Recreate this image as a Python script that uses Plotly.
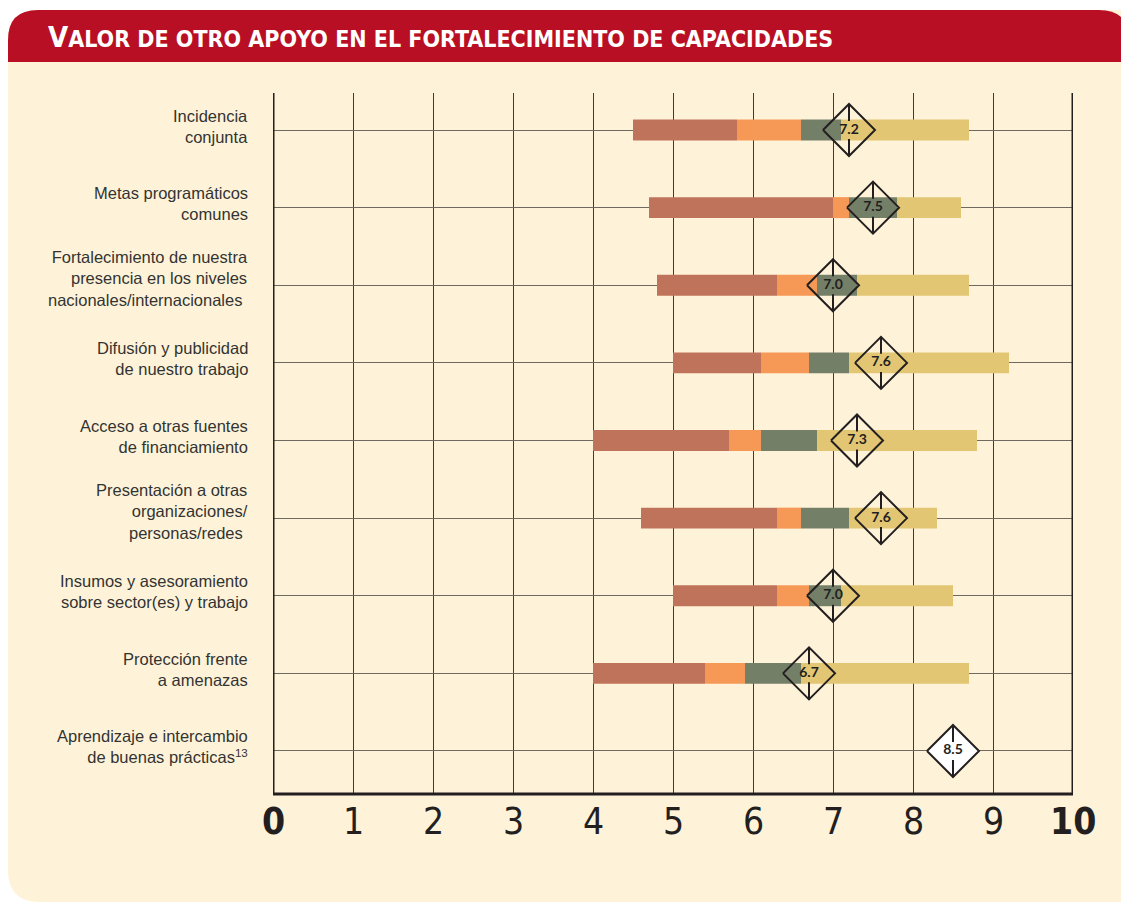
import plotly.graph_objects as go

# ---------------- data ----------------
categories = [
    "Incidencia<br>conjunta",
    "Metas programáticos<br>comunes",
    "Fortalecimiento de nuestra<br>presencia en los niveles<br>nacionales/internacionales ",
    "Difusión y publicidad<br>de nuestro trabajo",
    "Acceso a otras fuentes<br>de financiamiento",
    "Presentación a otras<br>organizaciones/<br>personas/redes ",
    "Insumos y asesoramiento<br>sobre sector(es) y trabajo",
    "Protección frente<br>a amenazas",
    "Aprendizaje e intercambio<br>de buenas prácticas<sup>13</sup>",
]
seg_start      = [4.5, 4.7, 4.8, 5.0, 4.0, 4.6, 5.0, 4.0, None]
seg_red_end    = [5.8, 7.0, 6.3, 6.1, 5.7, 6.3, 6.3, 5.4, None]
seg_orange_end = [6.6, 7.2, 6.8, 6.7, 6.1, 6.6, 6.7, 5.9, None]
seg_green_end  = [7.1, 7.8, 7.3, 7.2, 6.8, 7.2, 7.1, 6.6, None]
seg_end        = [8.7, 8.6, 8.7, 9.2, 8.8, 8.3, 8.5, 8.7, None]
promedio       = [7.2, 7.5, 7.0, 7.6, 7.3, 7.6, 7.0, 6.7, 8.5]
tick_values = list(range(0, 11))
tick_labels = ["0", "1", "2", "3", "4", "5", "6", "7", "8", "9", "10"]
title_text = "Valor de otro apoyo en el fortalecimiento de capacidades"

# ---------------- styling ----------------
OFF = 8  # page body margin
W, H = 1129 - OFF, 904 - OFF
L, R, T, B = 273, 1073, 93, 794   # screen pixels of plot area
ROW_PX = 77.6
y_top = -(130 - T) / ROW_PX
y_bot = 8 + (B - 751) / ROW_PX

C_RED = "#C0735B"
C_ORA = "#F69856"
C_GRN = "#747F68"
C_YEL = "#E2C673"
CREAM = "#FEF3D8"
BAND = "#B80F24"
INK = "#231F20"
NARROW = "Liberation Sans Narrow, Arial Narrow, DejaVu Sans Condensed, sans-serif"


def PX(p):
    return (p - L) / (R - L)


def PY(p):
    return (B - p) / (B - T)


rows = list(range(len(categories)))
dx = 26 / 80.0
dy = 26 / ROW_PX
txt_half = 9 / ROW_PX

fig = go.Figure()

# white fill for diamonds without bar
fx, fy = [], []
for i, v in enumerate(promedio):
    if seg_start[i] is None:
        fx += [v - dx, v, v + dx, v, v - dx, None]
        fy += [i, i - dy, i, i + dy, i, None]
fig.add_trace(go.Scatter(x=fx, y=fy, mode="lines", fill="toself", fillcolor="white",
                         line=dict(width=0), hoverinfo="skip", showlegend=False))

# vertical line inside diamonds
vx, vy = [], []
for i, v in enumerate(promedio):
    vx += [v, v, None, v, v, None]
    vy += [i - dy, i - txt_half, None, i + txt_half, i + dy, None]
fig.add_trace(go.Scatter(x=vx, y=vy, mode="lines", line=dict(color=INK, width=2),
                         hoverinfo="skip", showlegend=False))

# stacked segments
bounds = [seg_start, seg_red_end, seg_orange_end, seg_green_end, seg_end]
colors = [C_RED, C_ORA, C_GRN, C_YEL]
for k, col in enumerate(colors):
    base = list(bounds[k])
    length = [(b - a) if (a is not None and b is not None) else None
              for a, b in zip(bounds[k], bounds[k + 1])]
    fig.add_trace(go.Bar(orientation="h", y=rows, x=length, base=base, width=0.27,
                         marker=dict(color=col, line=dict(width=0)),
                         hoverinfo="skip", showlegend=False))

# diamond outlines
ox, oy = [], []
for i, v in enumerate(promedio):
    ox += [v - dx, v, v + dx, v, v - dx, None]
    oy += [i, i - dy, i, i + dy, i, None]
fig.add_trace(go.Scatter(x=ox, y=oy, mode="lines", line=dict(color=INK, width=2),
                         hoverinfo="skip", showlegend=False))

# values
fig.add_trace(go.Scatter(x=promedio, y=rows, mode="text",
                         text=["<b>%.1f</b>" % v for v in promedio],
                         textfont=dict(family="Lato, Liberation Sans, sans-serif", size=14, color=INK),
                         textposition="middle center", hoverinfo="skip", showlegend=False))

shapes = []
# cream panel
shapes.append(dict(type="path", xref="paper", yref="paper", layer="below",
                   path=("M %f,%f Q %f,%f %f,%f L %f,%f L %f,%f L %f,%f Q %f,%f %f,%f Z" % (
                       PX(8), PY(40), PX(8), PY(10), PX(38), PY(10),
                       PX(1140), PY(10), PX(1140), PY(902), PX(40), PY(902),
                       PX(8), PY(902), PX(8), PY(870))),
                   fillcolor=CREAM, line=dict(width=0)))
# red title band
shapes.append(dict(type="path", xref="paper", yref="paper", layer="below",
                   path=("M %f,%f L %f,%f Q %f,%f %f,%f L %f,%f Q %f,%f %f,%f L %f,%f Z" % (
                       PX(8), PY(62), PX(8), PY(40), PX(8), PY(10), PX(38), PY(10),
                       PX(1099), PY(10), PX(1129), PY(10), PX(1129), PY(40),
                       PX(1129), PY(62))),
                   fillcolor=BAND, line=dict(width=0)))
# frame lines
shapes.append(dict(type="line", xref="x", yref="paper", x0=0, x1=0, y0=0, y1=1,
                   line=dict(color=INK, width=3)))
shapes.append(dict(type="line", xref="x", yref="paper", x0=10, x1=10, y0=0, y1=1,
                   line=dict(color=INK, width=3)))
shapes.append(dict(type="line", xref="x", yref="paper", x0=-0.02, x1=10.02, y0=0, y1=0,
                   line=dict(color=INK, width=3)))

annotations = []
annotations.append(dict(
    xref="paper", yref="paper", x=PX(46), y=PY(37), xanchor="left", yanchor="middle",
    showarrow=False,
    text="<b>" + title_text[0].upper() + "<span style=\"font-size:23px\">" +
         title_text[1:].upper() + "</span></b>",
    font=dict(family=NARROW, size=29, color="white")))

for i, cat in enumerate(categories):
    n = cat.count("<br>") + 1
    annotations.append(dict(
        xref="paper", yref="y", x=PX(250), y=i, xanchor="right", yanchor="middle",
        yshift=4 + 3 * (n - 2), showarrow=False, align="right", text=cat,
        font=dict(family="Liberation Sans, Arial, sans-serif", size=16.5, color="#333333")))

for t, lab in zip(tick_values, tick_labels):
    txt = "<b>%s</b>" % lab if t in (tick_values[0], tick_values[-1]) else lab
    annotations.append(dict(
        xref="x", yref="paper", x=t, y=PY(822), xanchor="center", yanchor="middle",
        showarrow=False, text=txt, font=dict(family=NARROW, size=37, color=INK)))

fig.update_layout(
    width=W, height=H,
    margin=dict(l=L - OFF, r=W - (R - OFF), t=T - OFF, b=H - (B - OFF), pad=0),
    paper_bgcolor="white", plot_bgcolor="rgba(0,0,0,0)",
    barmode="overlay", showlegend=False,
    xaxis=dict(range=[0, 10], tickvals=tick_values, showticklabels=False, ticks="",
               showgrid=True, gridcolor="#3d3b38", gridwidth=1.3, zeroline=False,
               showline=False, fixedrange=True),
    yaxis=dict(range=[y_bot, y_top], tickvals=rows, showticklabels=False, ticks="",
               showgrid=True, gridcolor="#6e6a60", gridwidth=1.2, zeroline=False,
               showline=False, fixedrange=True),
    shapes=shapes, annotations=annotations,
)

fig.write_html("out.html")
